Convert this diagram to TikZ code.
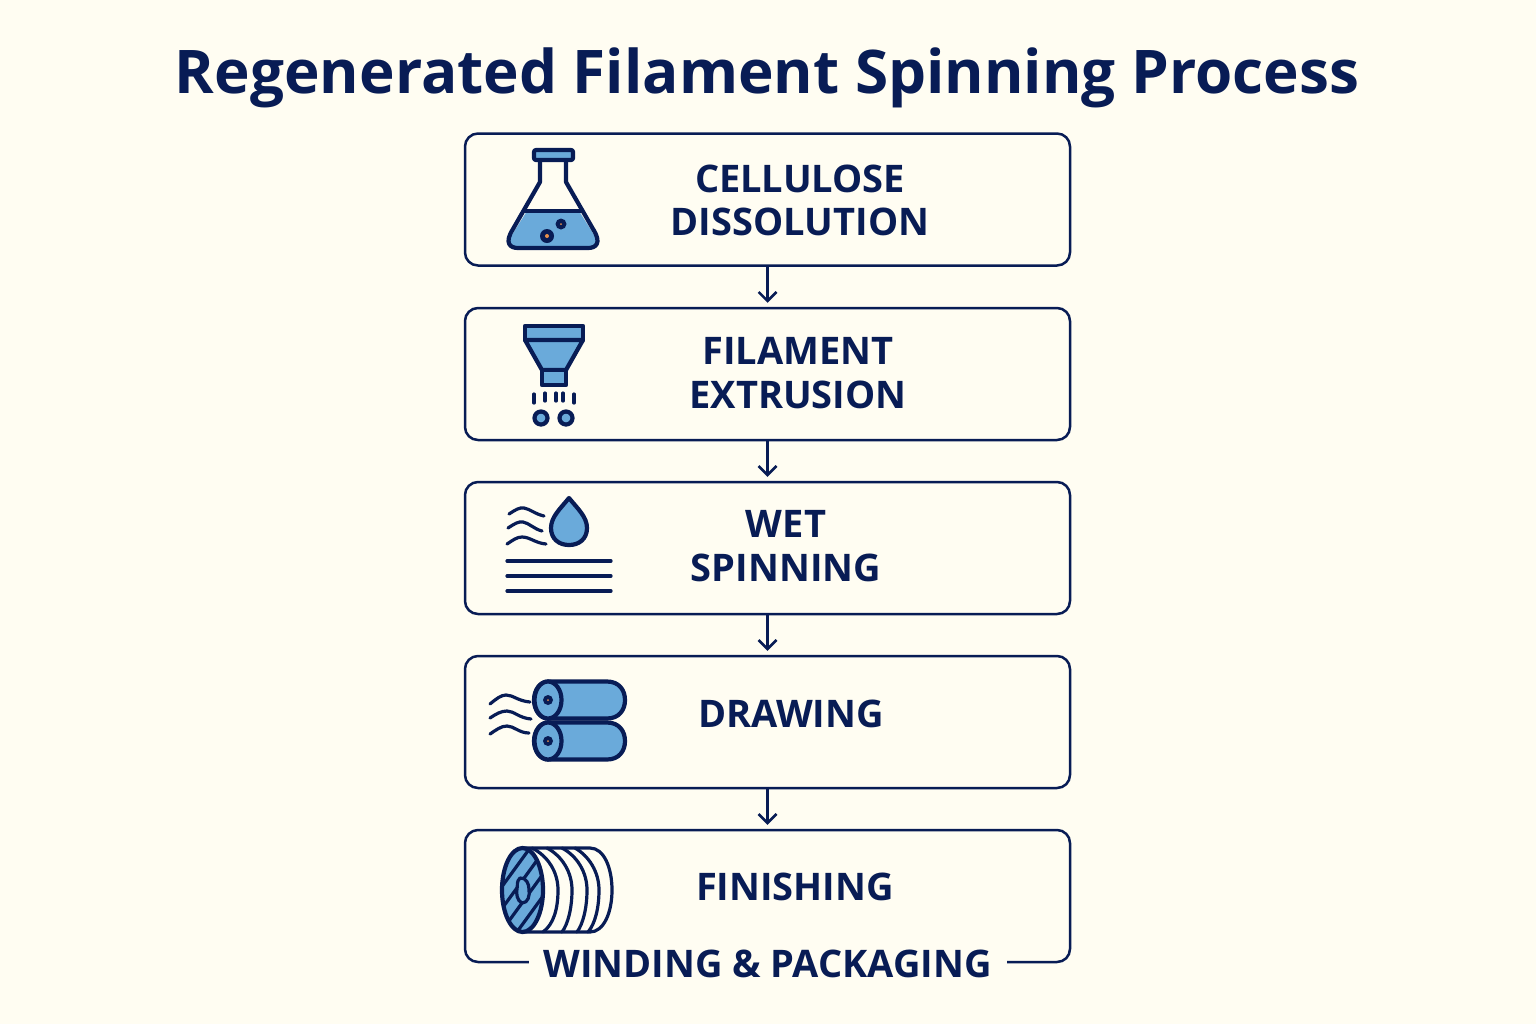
\documentclass[tikz,border=0pt]{standalone}
\usepackage{fontspec}
\setmainfont{Open Sans}
\usetikzlibrary{arrows.meta}
\definecolor{bgc}{HTML}{FFFDF2}
\definecolor{navy}{HTML}{081C55}
\definecolor{iconblue}{HTML}{6AAADA}
\definecolor{dotor}{HTML}{E8904A}
\tikzset{
  stage/.style={draw=navy,line width=1.25pt,rounded corners=6.5pt,minimum width=302.5pt,minimum height=66pt,inner sep=0pt},
  lbl/.style={text=navy,font=\fontsize{19}{21.7}\selectfont\bfseries,align=center,inner sep=0pt},
  flow/.style={draw=navy,line width=1.25pt,-{Straight Barb[length=4.5pt,width=9pt,line width=1.25pt]},shorten >=2pt},
  ico/.style={draw=navy,line width=2.1pt,line join=round,line cap=round},
  thin ico/.style={draw=navy,line width=1.6pt,line cap=round,line join=round},
  spool line/.style={draw=navy,line width=1.6pt,line cap=round,line join=round},
  blue/.style={fill=iconblue}
}
\begin{document}
\begin{tikzpicture}[x=0.5pt,y=-0.5pt]
\useasboundingbox (0,0) rectangle (1536,1024);
\fill[bgc] (0,0) rectangle (1536,1024);
\node[text=navy,font=\fontsize{30.1}{36}\selectfont\bfseries,inner sep=0pt] (title) at (767,78) {Regenerated Filament Spinning Process};
% boxes
\node[stage] (b1) at (767.5,199.5) {};
\node[stage] (b2) at (767.5,374) {};
\node[stage] (b3) at (767.5,548) {};
\node[stage] (b4) at (767.5,722) {};
\node[stage] (b5) at (767.5,896) {};
\draw[flow] (b1) -- (b2);
\draw[flow] (b2) -- (b3);
\draw[flow] (b3) -- (b4);
\draw[flow] (b4) -- (b5);
% labels
\node[lbl] (t1) at (800,200.5) {CELLULOSE\\DISSOLUTION};
\node[lbl] (t2) at (798,373) {FILAMENT\\EXTRUSION};
\node[lbl] (t3) at (786,546) {WET\\SPINNING};
\node[lbl] (t4) at (791,714) {DRAWING};
\node[lbl] (t5) at (795,887) {FINISHING};
\node[lbl,fill=bgc,minimum width=239pt,minimum height=20pt] (t6) at (767.5,964) {WINDING \& PACKAGING};
% flask
\fill[iconblue] (527,211) -- (579,211) -- (596,238) .. controls (600,245) and (596,248) .. (590,248) -- (516,248) .. controls (510,248) and (506,245) .. (510,238) -- cycle;
\draw[ico] (540,161) -- (540,182) -- (513,229) .. controls (504,243) and (510,248) .. (518,248) -- (588,248) .. controls (596,248) and (602,243) .. (593,229) -- (566,182) -- (566,161);
\draw[ico] (525,211) -- (581,211);
\draw[ico,blue,rounded corners=1pt] (534,150) rectangle (573,160);
\fill[navy] (547,236) circle (7);
\fill[navy] (561,224) circle (5.5);
\fill[dotor] (547,236) circle (2);
\fill[dotor] (561,224) circle (1);
% funnel
\draw[ico,blue] (525,326) -- (583,326) -- (583,340) -- (525,340) -- cycle;
\draw[ico,blue] (525,340) -- (583,340) -- (566,370) -- (542,370) -- cycle;
\draw[ico,blue] (542,370) rectangle (566,385);
\foreach \x/\a/\b in {534/394/403,545/393/401,556/393/401,563/393/401,574/394/403}
  \draw[thin ico] (\x,\a) -- (\x,\b);
\draw[ico,fill=iconblue] (541,418) circle (6.5);
\draw[ico,fill=iconblue] (566,418) circle (6.5);
% wet spinning
\draw[thin ico] (509,514) .. controls (515,510) and (520,507) .. (524,508) .. controls (530,509) and (535,514) .. (544,516);
\draw[thin ico] (508,528) .. controls (514,524) and (519,521) .. (523,522) .. controls (529,523) and (534,529) .. (542,531);
\draw[thin ico] (507,544) .. controls (513,540) and (517,537) .. (522,537) .. controls (530,537) and (535,543) .. (546,544);
\draw[ico,blue] (569,498) .. controls (560,509) and (551,517) .. (551,528) .. controls (551,539) and (559,545) .. (569,545) .. controls (579,545) and (587,539) .. (587,528) .. controls (587,517) and (578,509) .. (569,498) -- cycle;
\foreach \y in {561,576,591}
  \draw[thin ico] (507,\y) -- (611,\y);
% drawing rollers
\foreach \y in {700,741}{
  \draw[ico,blue] (548,\y-18.5) -- (607,\y-18.5) .. controls (619,\y-18.5) and (625,\y-10) .. (625,\y) .. controls (625,\y+10) and (619,\y+18.5) .. (607,\y+18.5) -- (548,\y+18.5) .. controls (540,\y+18.5) and (534,\y+10) .. (534,\y) .. controls (534,\y-10) and (540,\y-18.5) .. (548,\y-18.5) -- cycle;
  \draw[ico,blue] (548,\y) ellipse [x radius=13.5,y radius=18.5];
  \fill[navy] (548,\y) circle (5);
  \fill[dotor] (548,\y) circle (1);
}
\draw[thin ico] (490,704) .. controls (496,699) and (501,695) .. (506,695) .. controls (513,695) and (518,701) .. (530,702);
\draw[thin ico] (490,718) .. controls (496,714) and (501,711) .. (507,711) .. controls (514,711) and (519,718) .. (531,719);
\draw[thin ico] (490,734) .. controls (496,730) and (501,726) .. (507,726) .. controls (514,726) and (519,733) .. (529,733);
% spool
\draw[spool line,fill=bgc] (522,848) -- (590,848) .. controls (604,848) and (612,868) .. (612,890) .. controls (612,912) and (604,932) .. (590,932) -- (522,932);
\foreach \t/\b/\p in {532/543/558,547/562/572,562/577/587,575/588/599}
  \draw[spool line] (\t,848) .. controls (\p-10,856) and (\p,872) .. (\p,890) .. controls (\p,908) and (\p-4,924) .. (\b,932);
\begin{scope}
  \clip (522.5,890) ellipse [x radius=20.5,y radius=42];
  \fill[iconblue] (522.5,890) ellipse [x radius=20.5,y radius=42];
  \foreach \a in {-44,-22,0,22,44}
    \draw[spool line] (498,890+\a+24) -- (546,890+\a-42);
\end{scope}
\draw[ico] (522.5,890) ellipse [x radius=20.5,y radius=42];
\draw[spool line,fill=iconblue] (520,878) .. controls (526,877) and (529,884) .. (529,889) .. controls (530,896) and (528,903) .. (522,903) .. controls (517,901) and (516,893) .. (517,889) .. controls (518,885) and (516,882) .. (520,878) -- cycle;
\end{tikzpicture}
\end{document}
